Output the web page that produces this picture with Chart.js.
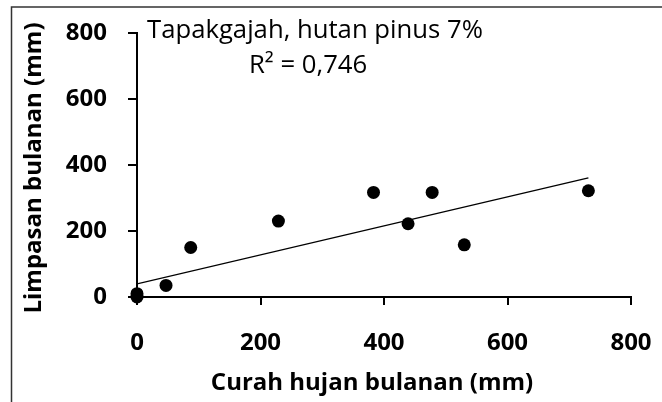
<!DOCTYPE html>
<html>
<head>
<meta charset="utf-8">
<script src="https://cdn.jsdelivr.net/npm/chart.js@4.4.0/dist/chart.umd.min.js"></script>
<style>
  html, body { margin: 0; padding: 0; background: #fff; }
  canvas { display: block; }
</style>
</head>
<body>
<canvas id="grafik" width="662" height="402"></canvas>
<script>
// Data
const curahHujan = [0, 0, 47, 87, 229, 383, 439, 478, 530, 731];
const limpasan = [0, 10, 35, 150, 230, 317, 222, 317, 158, 322];
const trendX = [0, 731];
const trendY = [40, 361];
const xTicks = [0, 200, 400, 600, 800];
const yTicks = [0, 200, 400, 600, 800];

const judul = 'Tapakgajah, hutan pinus 7%';
const r2Label = 'R² = 0,746';
const xTitle = 'Curah hujan bulanan (mm)';
const yTitle = 'Limpasan bulanan (mm)';

const tickFont = { family: 'Open Sans', size: 24, weight: 'bold' };

// bingkai dan teks tambahan
const teksPlugin = {
    id: 'teks',
    beforeDraw(chart) {
        const c = chart.ctx;
        c.save();
        c.strokeStyle = '#333';
        c.lineWidth = 1.5;
        c.beginPath();
        c.moveTo(11.5, 410);
        c.lineTo(11.5, 7);
        c.lineTo(670, 7);
        c.stroke();
        c.restore();
    },
    afterDraw(chart) {
        const c = chart.ctx;
        c.save();
        c.fillStyle = '#000';
        c.font = '25.7px "Open Sans"';
        c.textBaseline = 'alphabetic';
        c.textAlign = 'left';
        c.fillText(judul, 147, 38);
        c.fillText(r2Label, 249, 73);

        c.font = 'bold 24px "Open Sans"';
        c.textAlign = 'center';
        c.textBaseline = 'middle';
        c.fillText(xTitle, 372, 383);

        c.translate(34, 168);
        c.rotate(-Math.PI / 2);
        c.fillText(yTitle, 0, 0);
        c.restore();
    }
};

new Chart(document.getElementById('grafik'), {
    type: 'scatter',
    data: {
        datasets: [{
            data: curahHujan.map((x, i) => ({ x: x, y: limpasan[i] })),
            backgroundColor: '#000',
            borderWidth: 0,
            pointRadius: 6.5,
            pointHoverRadius: 6.5,
            clip: false
        }, {
            data: trendX.map((x, i) => ({ x: x, y: trendY[i] })),
            showLine: true,
            borderColor: '#000',
            borderWidth: 1.3,
            pointRadius: 0,
            fill: false
        }]
    },
    plugins: [teksPlugin],
    options: {
        responsive: false,
        animation: false,
        layout: {
            padding: { left: 0, top: 33, right: 31, bottom: 0 }
        },
        plugins: {
            legend: { display: false },
            tooltip: { enabled: false }
        },
        scales: {
            x: {
                type: 'linear',
                min: 0,
                max: 800,
                afterBuildTicks: scale => { scale.ticks = xTicks.map(v => ({ value: v })); },
                afterFit: scale => {
                    scale.height = 105;
                    scale.paddingLeft = 0;
                    scale.paddingRight = 0;
                },
                border: { color: '#000', width: 2 },
                grid: { drawOnChartArea: false, drawTicks: true, tickLength: 8, color: '#000', lineWidth: 2 },
                ticks: { color: '#000', font: tickFont, padding: 24, maxRotation: 0 }
            },
            y: {
                type: 'linear',
                min: 0,
                max: 800,
                afterBuildTicks: scale => { scale.ticks = yTicks.map(v => ({ value: v })); },
                afterFit: scale => {
                    scale.width = 137;
                    scale.paddingTop = 0;
                    scale.paddingBottom = 0;
                },
                border: { color: '#000', width: 2 },
                grid: { drawOnChartArea: false, drawTicks: true, tickLength: 9, color: '#000', lineWidth: 2 },
                ticks: { color: '#000', font: tickFont, padding: 21 }
            }
        }
    }
});
</script>
</body>
</html>
